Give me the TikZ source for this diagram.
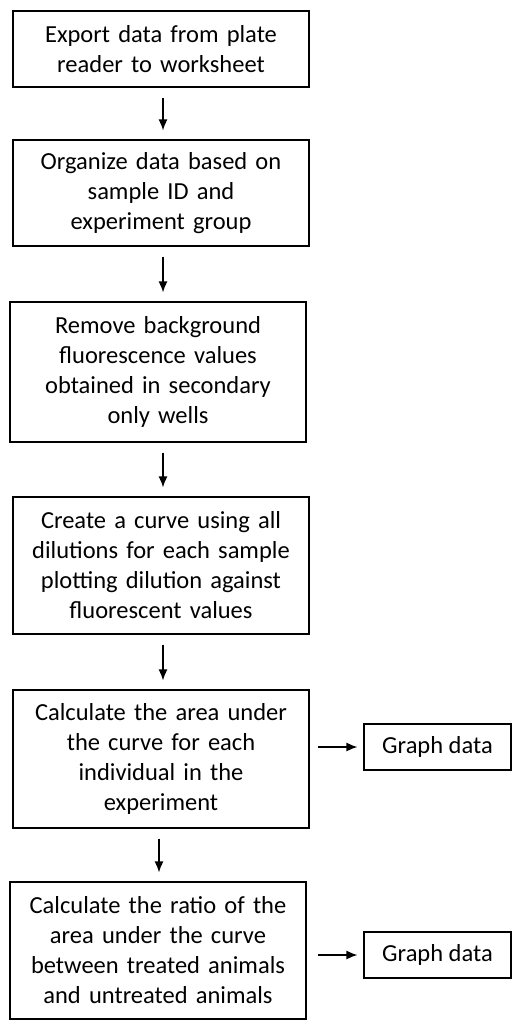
\documentclass[tikz,border=0pt]{standalone}
\usepackage{fontspec}
\setmainfont{Carlito}
\usetikzlibrary{arrows.meta}
\begin{document}
\begin{tikzpicture}[x=1pt,y=-1pt,
  stepbox/.style={draw, line width=1.2pt, align=center, inner sep=0pt,
    minimum width=296pt, text width=290pt,
    font=\fontsize{24.5}{30}\selectfont},
  gbox/.style={draw, line width=1.2pt, align=center, inner sep=0pt,
    minimum width=147pt, minimum height=46pt,
    font=\fontsize{24.5}{30}\selectfont},
  arr/.style={line width=1.3pt, -{Latex[length=11pt,width=9pt]}, shorten <=10pt, shorten >=9pt}]
\useasboundingbox (0,0) rectangle (512,1020);
\node[stepbox, minimum height=76pt] (b1) at (161,49) {Export data from plate\\reader to worksheet};
\node[stepbox, minimum height=106pt] (b2) at (161,193) {Organize data based on\\sample ID and\\experiment group};
\node[stepbox, minimum height=140pt] (b3) at (158,372) {Remove background\\fluorescence values\\obtained in secondary\\only wells};
\node[stepbox, minimum height=137pt] (b4) at (161,565.5) {Create a curve using all\\dilutions for each sample\\plotting dilution against\\fluorescent values};
\node[stepbox, minimum height=138pt] (b5) at (161,759) {Calculate the area under\\the curve for each\\individual in the\\experiment};
\node[stepbox, minimum height=137pt] (b6) at (158,950.5) {Calculate the ratio of the\\area under the curve\\between treated animals\\and untreated animals};
\node[gbox] (g1) at (437.5,747) {Graph data};
\node[gbox] (g2) at (437.5,955) {Graph data};
\draw[arr] ([xshift=2pt]b1.south) -- ([xshift=2pt]b1.south |- b2.north);
\draw[arr] ([xshift=2pt]b2.south) -- ([xshift=2pt]b2.south |- b3.north);
\draw[arr] ([xshift=5pt]b3.south) -- ([xshift=5pt]b3.south |- b4.north);
\draw[arr] ([xshift=2pt]b4.south) -- ([xshift=2pt]b4.south |- b5.north);
\draw[arr] ([xshift=-2pt]b5.south) -- ([xshift=-2pt]b5.south |- b6.north);
\draw[arr, shorten <=8pt, shorten >=6pt] (b5.east |- g1.west) -- (g1.west);
\draw[arr, shorten <=11pt, shorten >=6pt] (b6.east |- g2.west) -- (g2.west);
\end{tikzpicture}
\end{document}
